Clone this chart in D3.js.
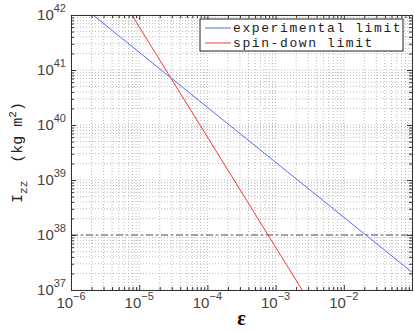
<!DOCTYPE html>
<html>
<head>
<meta charset="utf-8">
<script src="https://cdn.jsdelivr.net/npm/d3@7"></script>
<style>
  body { margin: 0; background: #fff; }
  svg { display: block; }
</style>
</head>
<body>
<div id="chart"></div>
<script>
// values
var expEps = [2.1e-6, 1e-1];          // experimental limit (slope -1)
var expI = [1e42, 2.1e37];
var sdEps = [7.8e-6, 2.45e-3];        // spin-down limit (slope -2)
var sdI = [1e42, 1e37];
var refLevel = 1e38;                  // dash-dot reference
var xTicks = [1e-6, 1e-5, 1e-4, 1e-3, 1e-2];
var xTickExp = ["-6", "-5", "-4", "-3", "-2"];
var yTicks = [1e37, 1e38, 1e39, 1e40, 1e41, 1e42];
var yTickExp = ["37", "38", "39", "40", "41", "42"];
var legendLabels = ["experimental limit", "spin-down limit"];
var colors = ["#5a6cf0", "#f03a3a"];

var margin = { top: 15, right: 3, bottom: 42, left: 71 },
    W = 415, H = 332,
    width = W - margin.left - margin.right,
    height = H - margin.top - margin.bottom;

var svg = d3.select("#chart").append("svg")
    .attr("width", W).attr("height", H);

var g = svg.append("g")
    .attr("transform", "translate(" + margin.left + "," + margin.top + ")");

var x = d3.scaleLog().domain([1e-6, 1e-1]).range([0, width]);
var y = d3.scaleLog().domain([1e37, 1e42]).range([height, 0]);

// minor + major positions for grid
function logMinor(lo, hi) {
    var out = [];
    for (var e = lo; e < hi; e++) {
        for (var k = 1; k < 10; k++) out.push(k * Math.pow(10, e));
    }
    out.push(Math.pow(10, hi));
    return out;
}
var xGrid = logMinor(-6, -1);
var yGrid = logMinor(37, 42);

g.append("clipPath").attr("id", "clip")
    .append("rect").attr("width", width).attr("height", height);

// grid
g.selectAll(".gx").data(xGrid).enter().append("line")
    .attr("x1", function (d) { return x(d); }).attr("x2", function (d) { return x(d); })
    .attr("y1", 0).attr("y2", height)
    .attr("stroke", "#bdbdbd").attr("stroke-width", 1)
    .attr("stroke-dasharray", "1,2");
g.selectAll(".gy").data(yGrid).enter().append("line")
    .attr("y1", function (d) { return y(d); }).attr("y2", function (d) { return y(d); })
    .attr("x1", 0).attr("x2", width)
    .attr("stroke", "#bdbdbd").attr("stroke-width", 1)
    .attr("stroke-dasharray", "1,2");

// reference line
g.append("line")
    .attr("x1", 0).attr("x2", width)
    .attr("y1", y(refLevel)).attr("y2", y(refLevel))
    .attr("stroke", "#555").attr("stroke-width", 1)
    .attr("stroke-dasharray", "7,3,2,3");

// curves
var line = d3.line()
    .x(function (d) { return x(d[0]); })
    .y(function (d) { return y(d[1]); });

var series = [d3.zip(expEps, expI), d3.zip(sdEps, sdI)];
g.selectAll(".curve").data(series).enter().append("path")
    .attr("clip-path", "url(#clip)")
    .attr("d", line)
    .attr("fill", "none")
    .attr("stroke", function (d, i) { return colors[i]; })
    .attr("stroke-width", 1);

// axes box with inward ticks on all sides
var axCol = "#333";
function ticksIn(axis) { return axis.tickSizeOuter(0).tickFormat(""); }
var minorX = xGrid.filter(function (d) { return xTicks.indexOf(d) < 0; });
var minorY = yGrid.filter(function (d) { return yTicks.indexOf(d) < 0; });

[[d3.axisBottom(x).tickValues(xTicks).tickSize(-5), height],
 [d3.axisBottom(x).tickValues(minorX).tickSize(-3), height],
 [d3.axisTop(x).tickValues(xTicks).tickSize(-5), 0],
 [d3.axisTop(x).tickValues(minorX).tickSize(-3), 0]].forEach(function (a) {
    var ax = g.append("g").attr("transform", "translate(0," + a[1] + ")").call(ticksIn(a[0]));
    ax.selectAll("line").attr("stroke", axCol);
    ax.select(".domain").attr("stroke", axCol);
});
[[d3.axisLeft(y).tickValues(yTicks).tickSize(-5), 0],
 [d3.axisLeft(y).tickValues(minorY).tickSize(-3), 0],
 [d3.axisRight(y).tickValues(yTicks).tickSize(-5), width],
 [d3.axisRight(y).tickValues(minorY).tickSize(-3), width]].forEach(function (a) {
    var ax = g.append("g").attr("transform", "translate(" + a[1] + ",0)").call(ticksIn(a[0]));
    ax.selectAll("line").attr("stroke", axCol);
    ax.select(".domain").attr("stroke", axCol);
});

// tick labels
var labFont = "'Liberation Sans', Arial, sans-serif";
var xl = g.selectAll(".xl").data(xTicks).enter().append("text")
    .attr("x", function (d) { return x(d); })
    .attr("y", height + 18)
    .attr("text-anchor", "middle")
    .attr("font-family", labFont).attr("font-size", 15).attr("fill", "#444");
xl.append("tspan").text("10");
xl.append("tspan").attr("dy", -8).attr("font-size", 11)
    .text(function (d, i) { return xTickExp[i].replace("-", "\u2212"); });

var yl = g.selectAll(".yl").data(yTicks).enter().append("text")
    .attr("x", -5)
    .attr("y", function (d) { return y(d) + 5; })
    .attr("text-anchor", "end")
    .attr("font-family", labFont).attr("font-size", 15).attr("fill", "#444");
yl.append("tspan").text("10");
yl.append("tspan").attr("dy", -8).attr("font-size", 11)
    .text(function (d, i) { return yTickExp[i]; });

// axis titles
svg.append("text")
    .attr("x", margin.left + width / 2).attr("y", 325)
    .attr("text-anchor", "middle")
    .attr("font-family", "'Liberation Serif', serif")
    .attr("font-weight", "bold").attr("font-size", 20)
    .text("\u03b5");

var yt = svg.append("text")
    .attr("transform", "translate(22," + (margin.top + height / 2) + ") rotate(-90)")
    .attr("text-anchor", "middle")
    .attr("font-family", "'Liberation Mono', monospace")
    .attr("font-size", 15).attr("fill", "#222")
    .attr("xml:space", "preserve");
yt.append("tspan").text("I");
yt.append("tspan").attr("dy", 5).attr("font-size", 11).text("zz");
yt.append("tspan").attr("dy", -5).text("  (kg m");
yt.append("tspan").attr("dy", -6).attr("font-size", 11).text("2");
yt.append("tspan").attr("dy", 6).text(")");

// legend
var lg = svg.append("g").attr("transform", "translate(200,19)");
lg.append("rect").attr("width", 203).attr("height", 32)
    .attr("fill", "#fff").attr("stroke", "#222").attr("stroke-width", 1);
var items = lg.selectAll(".li").data(legendLabels).enter().append("g")
    .attr("transform", function (d, i) { return "translate(0," + (9 + i * 15) + ")"; });
items.append("line")
    .attr("x1", 5).attr("x2", 31).attr("y1", 0).attr("y2", 0)
    .attr("stroke", function (d, i) { return colors[i]; });
items.append("text")
    .attr("x", 33).attr("y", 4)
    .attr("font-family", "'Liberation Mono', monospace")
    .attr("font-size", 13).attr("letter-spacing", 1.6).attr("fill", "#222")
    .text(function (d) { return d; });
</script>
</body>
</html>
